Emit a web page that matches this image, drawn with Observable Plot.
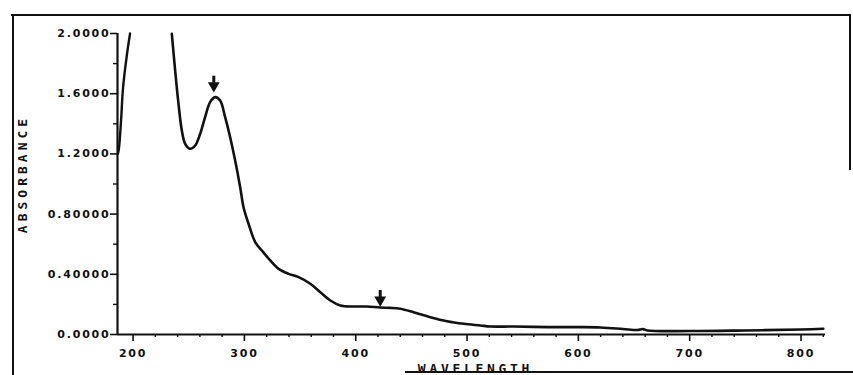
<!DOCTYPE html>
<html>
<head>
<meta charset="utf-8">
<script src="https://cdn.jsdelivr.net/npm/d3@7"></script>
<script src="https://cdn.jsdelivr.net/npm/@observablehq/plot@0.6"></script>
<style>
  html, body { margin: 0; padding: 0; background: #fff; }
  #wrap { position: relative; width: 853px; height: 375px; overflow: hidden; background: #fff; }
  #wrap svg { position: absolute; left: 0; top: 0; }
  .ln { position: absolute; background: #111; }
</style>
</head>
<body>
<div id="wrap">
  <div class="ln" style="left:11px; top:14px; width:840px; height:2px;"></div>
  <div class="ln" style="left:12px; top:14px; width:2px; height:361px;"></div>
  <div class="ln" style="left:849px; top:14px; width:1.5px; height:156px;"></div>
  <div class="ln" style="left:405px; top:371px; width:448px; height:2px;"></div>
</div>
<script>
// Spectrum: left branch (rises off scale above 2.0)
const wlLeft = [186.5, 187.4, 189.2, 191.0, 194.6, 197.3];
const absLeft = [1.203, 1.243, 1.422, 1.641, 1.867, 2.0];

// Spectrum: main branch (comes back on scale at ~235 nm)
const wlMain = [234.8, 237.8, 240.8, 243.8, 246.8, 251.3, 255.8, 260.3, 264.7, 269.2,
  273.7, 278.2, 282.7, 287.2, 291.7, 296.2, 299.2, 303.7, 309.7, 315.7,
  323.2, 330.7, 339.7, 348.7, 359.2, 368.2, 377.2, 386.2, 398.1, 410,
  422, 431, 440, 452, 467, 482, 497, 512, 521, 542,
  572, 600, 620, 640, 653, 658, 662, 700, 750, 800, 820];
const absMain = [1.998, 1.754, 1.533, 1.355, 1.267, 1.234, 1.256, 1.334, 1.445, 1.544,
  1.577, 1.555, 1.444, 1.311, 1.156, 0.979, 0.846, 0.736, 0.614, 0.558,
  0.492, 0.436, 0.403, 0.381, 0.337, 0.281, 0.226, 0.193, 0.186, 0.186,
  0.179, 0.177, 0.171, 0.148, 0.115, 0.088, 0.071, 0.060, 0.053, 0.053,
  0.049, 0.049, 0.047, 0.037, 0.030, 0.036, 0.027, 0.023, 0.027, 0.033, 0.038];

// Peak markers (arrow tip positions)
const arrowWl = [272.5, 422];
const arrowAbs = [1.61, 0.186];

// Axis ticks and labels
const yTicks = [0, 0.4, 0.8, 1.2, 1.6, 2.0];
const yTickLabels = ["0.0000", "0.40000", "0.80000", "1.2000", "1.6000", "2.0000"];
const yMinorTicks = [0.2, 0.6, 1.0, 1.4, 1.8];
const xTicks = [200, 300, 400, 500, 600, 700, 800];
const xTickLabels = ["200", "300", "400", "500", "600", "700", "800"];
const xMinorTicks = [220, 240, 260, 280, 320, 340, 360, 380, 420, 440, 460, 480,
  520, 540, 560, 580, 620, 640, 660, 680, 720, 740, 760, 780, 820];

const xTitle = "WAVELENGTH";
const yTitle = "ABSORBANCE";

const left = wlLeft.map((w, i) => ({w, a: absLeft[i]}));
const main = wlMain.map((w, i) => ({w, a: absMain[i]}));
const arrows = arrowWl.map((w, i) => ({w, a: arrowAbs[i]}));

const tickFont = {fontFamily: "DejaVu Sans", fontWeight: "bold", fontSize: 11};
const titleFont = {fontFamily: "DejaVu Sans Mono", fontWeight: "bold", fontSize: 13, fill: "#111"};

const svg = Plot.plot({
  width: 853,
  height: 375,
  marginLeft: 117,
  marginRight: 28,
  marginTop: 33,
  marginBottom: 41,
  style: {background: "transparent", color: "#111"},
  x: {domain: [186, 822]},
  y: {domain: [0, 2]},
  marks: [
    Plot.axisY({ticks: yTicks, tickSize: 7, tickPadding: 0, strokeWidth: 1.6,
      tickFormat: d => yTickLabels[yTicks.indexOf(d)], label: null, ...tickFont}),
    Plot.axisY({ticks: yMinorTicks, tickSize: 4, tickFormat: () => "", label: null, strokeWidth: 1.4}),
    Plot.axisX({ticks: xTicks, tickSize: 7, tickPadding: 8, strokeWidth: 1.6,
      tickFormat: d => xTickLabels[xTicks.indexOf(d)], label: null, ...tickFont}),
    Plot.axisX({ticks: xMinorTicks, tickSize: 3, tickFormat: () => "", label: null, strokeWidth: 1.4}),
    Plot.ruleY([0], {stroke: "#111", strokeWidth: 2.2}),
    Plot.ruleX([186], {stroke: "#111", strokeWidth: 2.2}),
    Plot.line(left, {x: "w", y: "a", stroke: "#111", strokeWidth: 2.4, curve: "catmull-rom"}),
    Plot.line(main, {x: "w", y: "a", stroke: "#111", strokeWidth: 2.6, curve: "catmull-rom"}),
    Plot.ruleX(arrows, {x: "w", y1: "a", y2: "a", insetTop: -16, insetBottom: 9, stroke: "#111", strokeWidth: 3}),
    Plot.dot(arrows, {x: "w", y: "a", symbol: "triangle", rotate: 180, r: 4.4, fill: "#111", stroke: "none", dy: -6.5}),
    Plot.text([yTitle], {frameAnchor: "left", textAnchor: "middle", dx: -95, dy: -10, rotate: -90,
      text: d => d, ...titleFont}),
    Plot.text([xTitle], {frameAnchor: "bottom", textAnchor: "middle", dx: 4, dy: 34, text: d => d,
      lineAnchor: "middle", ...titleFont})
  ]
});

d3.select(svg).selectAll("text").each(function () {
  const t = this.textContent;
  if (t === xTitle) {
    this.setAttribute("letter-spacing", "3.7");
  } else if (t === yTitle) {
    this.setAttribute("letter-spacing", "4");
  } else {
    this.setAttribute("letter-spacing", "1.8");
  }
});

document.getElementById("wrap").appendChild(svg);
</script>
</body>
</html>
